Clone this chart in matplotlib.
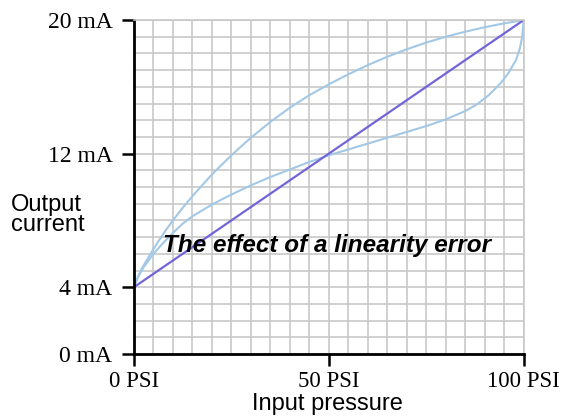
import numpy as np
import matplotlib.pyplot as plt

# ideal transfer line
ideal_x = [0, 100]
ideal_y = [4, 20]

# curves (PSI, mA)
upper_x = [0, 1, 2, 4, 6, 8, 10, 12.5, 15, 17.5, 20, 25, 30, 35, 40, 45, 50,
           55, 60, 65, 70, 75, 80, 85, 90, 95, 100]
upper_y = [4, 4.6, 5.1, 5.9, 6.65, 7.35, 8.0, 8.75, 9.45, 10.1, 10.75, 11.9,
           12.95, 13.9, 14.75, 15.5, 16.15, 16.75, 17.3, 17.8, 18.25, 18.65,
           19.0, 19.3, 19.57, 19.8, 20]

lower_x = [0, 1, 2.5, 5, 7.5, 10, 12.5, 15, 20, 25, 30, 35, 40, 45, 50, 55,
           60, 65, 70, 75, 80, 85, 88, 91, 94, 96, 98, 99, 99.6, 100]
lower_y = [4, 4.6, 5.2, 6.0, 6.65, 7.25, 7.8, 8.25, 8.95, 9.55, 10.1, 10.6,
           11.05, 11.5, 11.9, 12.25, 12.6, 12.95, 13.3, 13.65, 14.05, 14.55,
           14.95, 15.5, 16.2, 16.8, 17.6, 18.3, 19.0, 20]

xticks = [0, 50, 100]
xlabels = ['0 PSI', '50 PSI', '100 PSI']
yticks = [0, 4, 12, 20]
ylabels = ['0 mA', '4 mA', '12 mA', '20 mA']

fig = plt.figure(figsize=(5.65, 4.17), dpi=100)
ax = fig.add_axes([0.237, 0.151, 0.69, 0.801])

ax.plot(upper_x, upper_y, color='#a3c8e6', lw=1.5)
ax.plot(lower_x, lower_y, color='#a3c8e6', lw=1.5)
ax.plot(ideal_x, ideal_y, color='#7265d8', lw=1.6)

ax.set_xlim(0, 100)
ax.set_ylim(0, 20)
ax.set_xticks(xticks)
ax.set_xticklabels(xlabels, family='Liberation Serif', fontsize=16.5)
ax.set_yticks(yticks)
ax.set_yticklabels(ylabels, family='Liberation Serif', fontsize=17)
ax.set_xticks(np.arange(0, 101, 5), minor=True)
ax.set_yticks(np.arange(0, 21, 1), minor=True)
ax.tick_params(which='major', length=8.5, width=1.8, color='black')
ax.tick_params(axis='y', which='major', pad=7)
ax.tick_params(axis='x', which='major', pad=4)
ax.tick_params(which='minor', length=0)
ax.grid(which='both', color='#c8c8c8', lw=1.2)
ax.set_axisbelow(True)

# top / right borders look like the grid
for s in ['top', 'right']:
    ax.spines[s].set_color('#c8c8c8')
    ax.spines[s].set_linewidth(1.2)
for s in ['left', 'bottom']:
    ax.spines[s].set_linewidth(2)

ax.text(7.5, 6.5, 'The effect of a linearity error', family='Liberation Sans',
        fontsize=17.5, fontweight='bold', fontstyle='italic', va='center')

fig.text(0.02, 0.485, 'Output\ncurrent', family='Liberation Sans', fontsize=17,
         ha='left', va='center', linespacing=0.9)
fig.text(0.58, 0.03, 'Input pressure', family='Liberation Sans', fontsize=17,
         ha='center', va='center')

fig.savefig('out.png', dpi=100)
